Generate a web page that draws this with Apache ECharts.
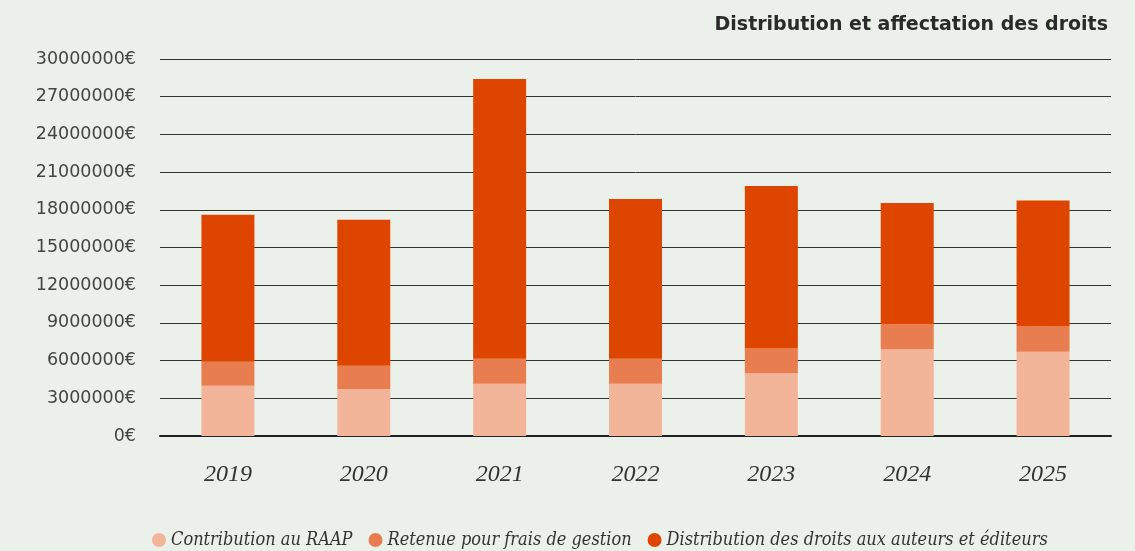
<!DOCTYPE html>
<html><head><meta charset="utf-8">
<script src="https://cdn.jsdelivr.net/npm/echarts@6/dist/echarts.min.js"></script>
<style>html,body{margin:0;padding:0;background:#ecf0eb}#c{width:1135px;height:551px}</style>
</head><body><div id="c"></div>
<script>
const categories = ['2019','2020','2021','2022','2023','2024','2025'];
const raap = [4.0e6, 3.75e6, 4.15e6, 4.15e6, 5.0e6, 6.9e6, 6.7e6];
const gestion = [1.9e6, 1.85e6, 2.0e6, 2.0e6, 2.0e6, 2.0e6, 2.05e6];
const distribution = [11.7e6, 11.6e6, 22.25e6, 12.7e6, 12.9e6, 9.65e6, 10.0e6];
const seriesNames = ['Contribution au RAAP','Retenue pour frais de gestion','Distribution des droits aux auteurs et éditeurs'];
const colors = ['#f2b59a','#e87d50','#de4600'];
const title = 'Distribution et affectation des droits';

const chart = echarts.init(document.getElementById('c'));
const mk = (name, data, color) => ({
  name, type:'bar', stack:'total', data, barWidth:53,
  itemStyle:{color}, emphasis:{disabled:true}
});
chart.setOption({
  backgroundColor:'#ecf0eb',
  animation:false,
  title:{text:title, right:22, top:11, textStyle:{fontFamily:'DejaVu Sans', fontWeight:'bold', fontSize:19, color:'#2a2a2a'}},
  grid:{left:160, right:24, top:59, bottom:115},
  legend:{bottom:-3, left:147, itemWidth:14, itemHeight:14, icon:'circle', itemGap:16,
    textStyle:{fontFamily:'DejaVu Serif Condensed, Liberation Serif, serif', fontStyle:'italic', fontSize:18, color:'#333'},
    data:seriesNames},
  xAxis:{type:'category', data:categories,
    axisLine:{lineStyle:{color:'#222', width:2}},
    axisTick:{alignWithLabel:true, length:12, lineStyle:{color:'#222', width:2}},
    axisLabel:{fontFamily:'Liberation Serif, serif', fontStyle:'italic', fontSize:24, color:'#333', margin:27}},
  yAxis:{type:'value', min:0, max:30000000, interval:3000000,
    axisLine:{show:false}, axisTick:{show:false},
    axisLabel:{formatter:v=>v+'€', fontFamily:'DejaVu Sans', fontSize:17.5, color:'#444', margin:24},
    splitLine:{lineStyle:{color:'#333', width:1}}},
  series:[mk(seriesNames[0], raap, colors[0]), mk(seriesNames[1], gestion, colors[1]), mk(seriesNames[2], distribution, colors[2])]
});
</script></body></html>
